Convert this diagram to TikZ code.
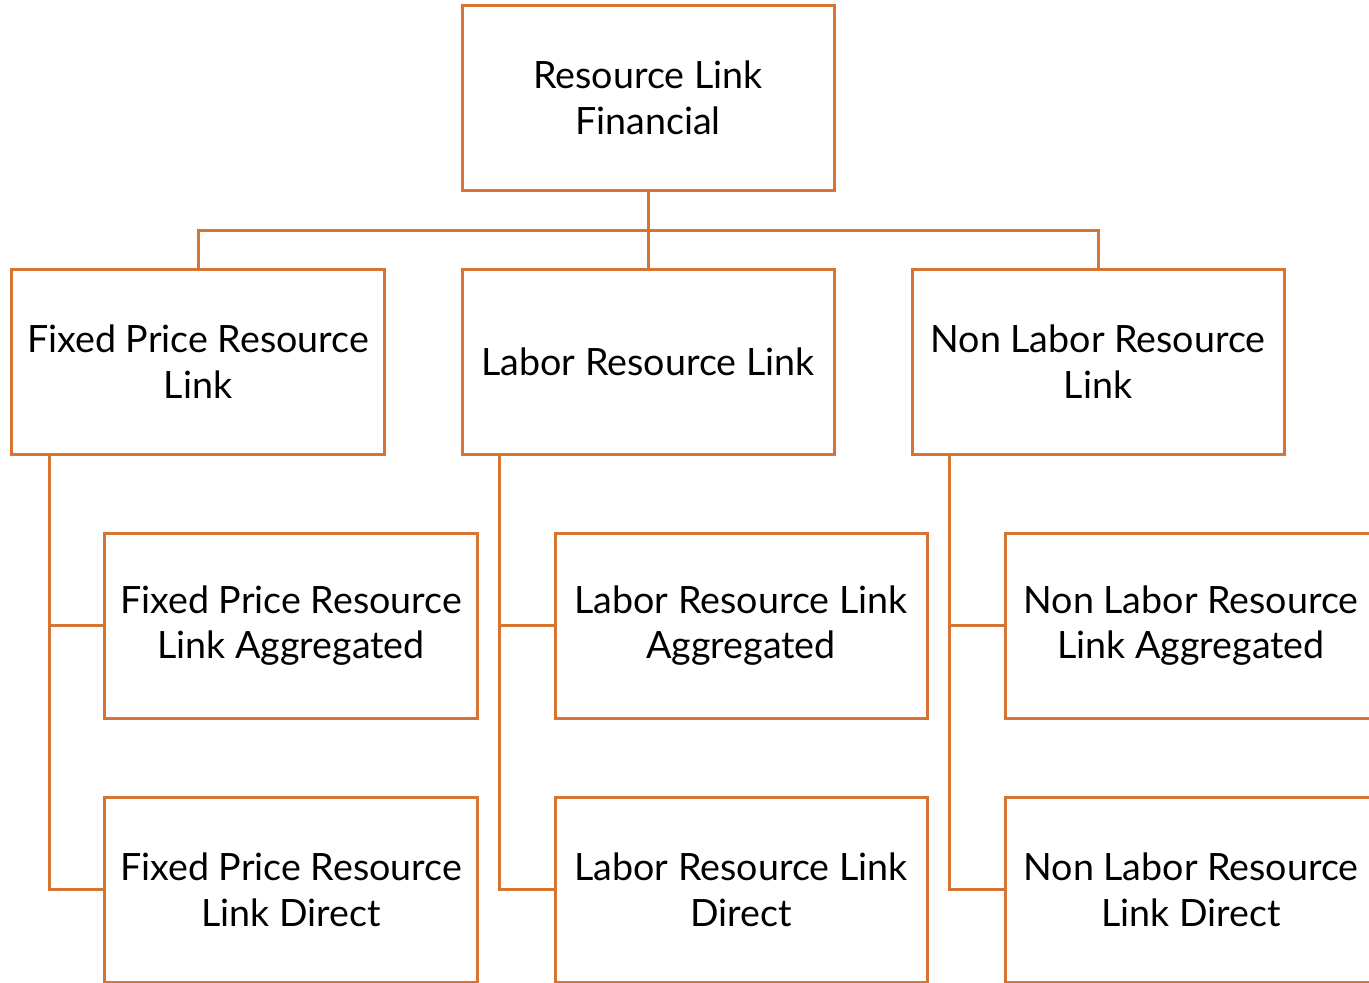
\documentclass[tikz,border=0pt]{standalone}
\usepackage{fontspec}
\setmainfont{Lato}
\definecolor{linkorange}{RGB}{214,116,52}

\tikzset{boite/.style = {draw = linkorange, line width = 0.6mm, fill = white,
                         minimum width = 74.4mm, minimum height = 37mm,
                         align = center, inner sep = 1mm,
                         font = \fontsize{21.4}{26}\selectfont},
         lien/.style = {draw = linkorange, line width = 0.6mm}
        }

\begin{document}
\begin{tikzpicture}[x=0.2mm, y=-0.2mm]
  \useasboundingbox (0, 0) rectangle (1369, 982);
  \clip (0, 0) rectangle (1369, 982);
  \node[boite] (rlf) at (648, 97.5) {Resource Link\\Financial};
  \node[boite] (fp) at (198, 361.5) {Fixed Price Resource\\Link};
  \node[boite] (lab) at (648, 361.5) {Labor Resource Link};
  \node[boite] (nl) at (1098, 361.5) {Non Labor Resource\\Link};
  \node[boite] (fpagg) at (291, 625.5) {Fixed Price Resource\\Link Aggregated};
  \node[boite] (labagg) at (741, 625.5) {Labor Resource Link\\Aggregated};
  \node[boite] (nlagg) at (1191, 625.5) {Non Labor Resource\\Link Aggregated};
  \node[boite] (fpdir) at (291, 889.5) {Fixed Price Resource\\Link Direct};
  \node[boite] (labdir) at (741, 889.5) {Labor Resource Link\\Direct};
  \node[boite] (nldir) at (1191, 889.5) {Non Labor Resource\\Link Direct};
  \coordinate (bus) at (648, 230);
  \draw[lien] (rlf.south) -- (lab.north);
  \draw[lien] (fp.north) |- (bus) -| (nl.north);
  \draw[lien] ([xshift=7.8mm]fp.south west) |- (fpagg.west);
  \draw[lien] ([xshift=7.8mm]fp.south west) |- (fpdir.west);
  \draw[lien] ([xshift=7.8mm]lab.south west) |- (labagg.west);
  \draw[lien] ([xshift=7.8mm]lab.south west) |- (labdir.west);
  \draw[lien] ([xshift=7.8mm]nl.south west) |- (nlagg.west);
  \draw[lien] ([xshift=7.8mm]nl.south west) |- (nldir.west);
\end{tikzpicture}
\end{document}
